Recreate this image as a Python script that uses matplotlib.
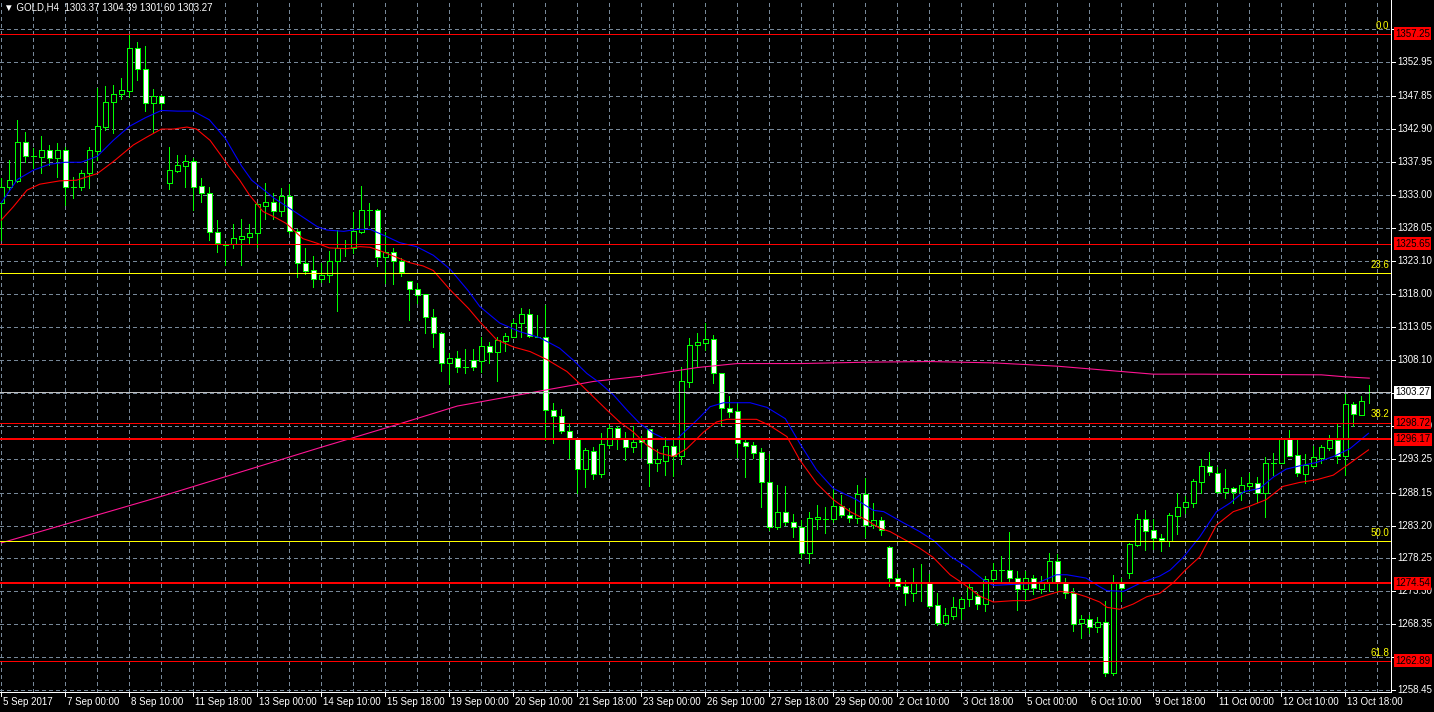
import matplotlib
matplotlib.use('Agg')
import matplotlib.pyplot as plt
from matplotlib.patches import Rectangle

# ---------------- data ----------------
opens = [1331.71, 1334.12, 1335.13, 1340.90, 1338.89, 1338.74, 1339.74, 1338.49, 1339.74, 1334.12,
         1334.12, 1336.23, 1339.64, 1343.26, 1346.92, 1348.12, 1348.68, 1355.05, 1351.89, 1346.77,
         1347.87, 1334.72, 1336.63, 1337.39, 1338.09, 1334.32, 1333.22, 1327.40, 1325.60, 1325.59,
         1326.40, 1326.70, 1327.20, 1331.37, 1331.97, 1330.61, 1332.82, 1327.60, 1322.68, 1321.68,
         1320.27, 1320.88, 1323.09, 1325.04, 1325.04, 1327.45, 1330.71, 1330.71, 1323.69, 1324.34,
         1323.09, 1320.02, 1318.77, 1318.07, 1314.55, 1312.25, 1307.73, 1308.38, 1307.13, 1308.13,
         1308.03, 1310.24, 1309.39, 1311.04, 1311.64, 1313.75, 1315.06, 1311.64, 1311.54, 1300.60,
         1299.75, 1297.49, 1296.19, 1291.67, 1294.48, 1290.92, 1295.33, 1297.84, 1296.44, 1295.08,
         1296.09, 1297.69, 1292.58, 1292.98, 1295.18, 1293.73, 1304.87, 1310.39, 1310.74, 1311.24,
         1306.12, 1300.85, 1300.45, 1295.73, 1295.33, 1294.23, 1289.81, 1282.94, 1285.30, 1283.79,
         1283.04, 1279.02, 1284.14, 1284.14, 1284.14, 1286.15, 1284.79, 1284.29, 1287.95, 1283.29,
         1284.04, 1279.93, 1275.26, 1274.10, 1273.00, 1274.76, 1274.76, 1271.25, 1268.59, 1269.64,
         1270.84, 1272.10, 1272.65, 1271.35, 1275.11, 1276.51, 1276.51, 1275.26, 1273.60, 1275.26,
         1273.60, 1274.76, 1277.87, 1274.76, 1273.00, 1268.48, 1269.09, 1267.98, 1268.74, 1260.96,
         1274.51, 1276.01, 1280.28, 1284.14, 1282.54, 1281.29, 1280.94, 1284.65, 1285.96, 1286.66,
         1289.82, 1292.18, 1291.17, 1288.31, 1288.82, 1288.31, 1289.22, 1289.57, 1288.16, 1292.68,
         1292.68, 1296.19, 1293.78, 1290.97, 1292.18, 1293.33, 1294.84, 1296.09, 1293.68, 1301.51,
         1299.86, 1303.37]
highs = [1335.48, 1338.24, 1344.26, 1342.50, 1339.99, 1341.85, 1340.50, 1340.85, 1340.25, 1335.73,
         1336.73, 1340.15, 1349.03, 1349.38, 1349.53, 1350.53, 1357.25, 1355.95, 1355.45, 1348.88,
         1348.02, 1340.15, 1338.99, 1338.99, 1338.49, 1335.48, 1334.22, 1329.21, 1325.80, 1328.61,
         1329.31, 1328.61, 1331.72, 1334.73, 1333.22, 1333.98, 1334.63, 1327.80, 1324.94, 1323.79,
         1322.78, 1324.54, 1327.70, 1326.20, 1330.46, 1334.33, 1331.82, 1330.81, 1327.45, 1324.94,
         1323.44, 1320.02, 1319.67, 1318.07, 1315.76, 1312.40, 1309.23, 1309.49, 1309.74, 1309.74,
         1311.64, 1310.89, 1311.64, 1312.25, 1314.25, 1315.91, 1315.81, 1314.91, 1316.41, 1301.71,
         1300.70, 1298.50, 1296.24, 1294.83, 1295.08, 1297.09, 1298.35, 1298.20, 1297.34, 1298.20,
         1296.69, 1297.69, 1294.68, 1296.59, 1296.34, 1307.03, 1311.39, 1312.15, 1313.75, 1311.89,
         1306.12, 1302.71, 1301.70, 1296.33, 1295.83, 1294.83, 1293.98, 1289.31, 1289.16, 1284.94,
         1284.04, 1285.30, 1286.30, 1285.95, 1288.81, 1287.80, 1285.80, 1289.31, 1290.31, 1286.65,
         1284.54, 1280.13, 1275.91, 1275.01, 1276.76, 1277.42, 1275.91, 1273.00, 1270.74, 1272.50,
         1272.50, 1274.61, 1273.25, 1275.61, 1277.52, 1278.62, 1282.29, 1276.41, 1276.41, 1275.76,
         1275.61, 1279.12, 1278.92, 1275.26, 1273.75, 1269.74, 1269.74, 1269.49, 1271.90, 1275.76,
         1275.26, 1280.53, 1284.94, 1285.55, 1284.14, 1281.94, 1285.15, 1288.16, 1287.66, 1290.17,
         1293.18, 1294.34, 1292.08, 1291.68, 1289.07, 1290.47, 1291.17, 1290.47, 1293.48, 1294.08,
         1296.34, 1297.60, 1296.19, 1293.98, 1295.19, 1295.34, 1296.84, 1298.50, 1303.02, 1301.86,
         1302.72, 1304.39]
lows = [1326.20, 1333.72, 1334.98, 1337.99, 1336.98, 1336.23, 1337.49, 1335.73, 1331.46, 1332.47,
        1333.72, 1333.97, 1338.24, 1342.76, 1342.25, 1347.37, 1347.77, 1350.28, 1345.67, 1342.50,
        1345.77, 1333.82, 1336.48, 1334.22, 1330.71, 1331.97, 1326.20, 1324.44, 1322.50, 1324.94,
        1322.43, 1325.80, 1325.19, 1329.31, 1329.31, 1329.81, 1327.20, 1320.68, 1321.08, 1319.07,
        1319.92, 1319.92, 1315.56, 1323.79, 1324.29, 1327.30, 1328.46, 1322.28, 1319.67, 1319.57,
        1320.78, 1314.15, 1316.76, 1312.25, 1310.14, 1306.53, 1304.50, 1306.38, 1306.12, 1306.63,
        1306.38, 1307.63, 1305.02, 1309.54, 1311.64, 1311.64, 1311.64, 1311.54, 1296.09, 1295.69,
        1297.19, 1293.33, 1288.06, 1288.96, 1290.17, 1290.57, 1294.83, 1294.68, 1293.08, 1294.33,
        1293.58, 1289.16, 1291.47, 1290.82, 1290.67, 1292.48, 1304.12, 1307.23, 1309.63, 1304.72,
        1298.34, 1299.50, 1293.57, 1290.46, 1293.32, 1286.05, 1282.54, 1282.64, 1283.29, 1281.43,
        1278.27, 1277.62, 1282.64, 1282.04, 1283.79, 1284.54, 1283.79, 1283.64, 1281.53, 1282.79,
        1281.78, 1274.10, 1273.60, 1271.24, 1271.90, 1271.90, 1271.00, 1268.23, 1268.23, 1269.09,
        1269.09, 1271.09, 1270.59, 1270.39, 1274.61, 1274.76, 1274.61, 1270.49, 1272.00, 1272.90,
        1273.10, 1273.40, 1273.25, 1272.25, 1267.38, 1266.23, 1267.08, 1267.23, 1260.56, 1260.71,
        1271.90, 1275.26, 1280.13, 1279.53, 1279.62, 1279.43, 1280.13, 1281.94, 1285.15, 1286.06,
        1288.16, 1290.82, 1288.06, 1287.31, 1286.56, 1287.06, 1288.46, 1286.81, 1284.55, 1290.82,
        1292.68, 1293.68, 1290.67, 1289.57, 1292.00, 1292.68, 1294.59, 1292.68, 1290.82, 1298.20,
        1299.86, 1301.60]
closes = [1334.22, 1335.23, 1340.90, 1338.89, 1338.89, 1339.74, 1338.49, 1339.74, 1334.12, 1334.12,
          1336.23, 1339.74, 1343.36, 1347.02, 1348.12, 1348.78, 1355.05, 1351.89, 1346.77, 1347.87,
          1346.77, 1336.73, 1337.49, 1338.09, 1334.22, 1333.22, 1327.45, 1325.69, 1325.50, 1326.45,
          1326.80, 1327.20, 1331.62, 1331.97, 1330.61, 1332.82, 1327.60, 1322.68, 1321.58, 1320.27,
          1320.88, 1323.09, 1325.04, 1325.04, 1327.55, 1330.71, 1330.71, 1323.69, 1324.34, 1323.09,
          1321.43, 1318.77, 1317.92, 1314.55, 1312.25, 1307.73, 1308.38, 1307.03, 1307.13, 1307.13,
          1310.24, 1309.39, 1311.14, 1311.74, 1313.65, 1315.06, 1311.74, 1311.64, 1300.60, 1299.70,
          1297.49, 1296.24, 1291.67, 1294.58, 1290.97, 1295.43, 1297.84, 1296.44, 1295.08, 1295.73,
          1295.79, 1292.58, 1293.23, 1295.18, 1293.73, 1304.97, 1310.39, 1310.89, 1311.24, 1306.12,
          1300.85, 1300.25, 1295.68, 1295.23, 1294.18, 1289.81, 1282.94, 1285.30, 1283.79, 1282.94,
          1279.02, 1284.39, 1284.44, 1284.14, 1286.15, 1284.79, 1284.29, 1287.95, 1283.29, 1284.04,
          1282.54, 1275.26, 1274.10, 1273.00, 1274.76, 1274.76, 1271.14, 1268.59, 1269.74, 1270.89,
          1272.10, 1273.90, 1271.35, 1275.11, 1276.51, 1276.51, 1275.26, 1273.60, 1275.26, 1273.75,
          1274.76, 1277.87, 1274.76, 1273.00, 1268.38, 1269.09, 1267.98, 1268.74, 1260.96, 1274.51,
          1273.75, 1280.38, 1284.14, 1282.44, 1281.28, 1281.04, 1284.80, 1285.96, 1286.71, 1289.92,
          1292.18, 1291.33, 1288.31, 1288.82, 1288.31, 1289.32, 1289.57, 1288.16, 1292.58, 1292.68,
          1296.19, 1293.68, 1291.07, 1292.33, 1293.48, 1294.99, 1296.09, 1293.68, 1301.51, 1300.01,
          1301.96, 1303.27]

# moving averages (bar index, price)
ma_blue_bars = [0, 2, 4, 6, 8, 10, 12, 14, 16, 18, 20, 22, 24, 26, 28, 30, 31.3, 34.1, 37, 39.5,
                40.7, 42.8, 44.4, 46.1, 48.2, 49.8, 51.9, 54, 56.1, 58.4, 59.8, 62.3, 64.8, 67.3,
                69.8, 71.5, 73.2, 74.8, 76.5, 78.2, 79.8, 81.5, 83.2, 84.4, 86.1, 87.3, 88.6, 90.3,
                93.6, 95.7, 98, 99.8, 101.9, 104, 106.9, 109, 110.3, 112.8, 114.8, 116.5, 118.6,
                120.7, 122.8, 124, 127.3, 129.4, 131.9, 133.2, 135.6, 137.3, 138.2, 140.3, 142.3,
                144.8, 146.1, 147.8, 149.8, 151.9, 153.6, 155.3, 157.3, 159, 160.6, 162.3, 164.4,
                166.5, 168.6, 170.9]
ma_blue_vals = [1331.8, 1335.3, 1336.7, 1337.6, 1337.9, 1337.9, 1338.8, 1341.2, 1343.3, 1344.6,
                1345.7, 1345.6, 1345.6, 1344.3, 1341.5, 1337.4, 1335.2, 1332.5, 1330.2, 1328.2,
                1327.7, 1327.5, 1327.8, 1327.8, 1326.7, 1325.8, 1325.2, 1323.9, 1321.8, 1318.5,
                1316.2, 1313.7, 1312.4, 1311.5, 1309.9, 1308.1, 1306.1, 1304.7, 1302.9, 1300.6,
                1298.6, 1297.1, 1296.1, 1296.2, 1298.1, 1299.5, 1301.1, 1301.7, 1301.7, 1301.0,
                1299.3, 1295.6, 1291.6, 1288.8, 1287.1, 1285.5, 1285.3, 1283.6, 1282.3, 1281.0,
                1278.6, 1277.0, 1275.0, 1274.2, 1274.4, 1274.5, 1275.8, 1275.8, 1275.3, 1274.0,
                1273.4, 1273.3, 1274.5, 1275.6, 1276.5, 1278.5, 1281.5, 1285.3, 1286.6, 1288.3,
                1288.8, 1290.5, 1291.7, 1292.2, 1292.7, 1293.6, 1294.8, 1297.1]
ma_red_bars = [0, 1.5, 3.2, 4.8, 7.3, 9.4, 12, 14, 16.5, 18.2, 20, 21.5, 23.2, 24.4, 26.1, 28.2,
               29.8, 31, 32.7, 34.4, 35.6, 37.7, 39.5, 41, 43.2, 44.8, 46.1, 47.3, 49.4, 51, 52.7,
               54, 56.1, 58.4, 59.8, 61.9, 64, 66.1, 68.2, 70.7, 72.3, 74, 75.7, 77.3, 79, 80.7,
               82.3, 84, 85.7, 87.8, 89.4, 90.7, 94.4, 96, 98.2, 99.8, 101.9, 104, 106.1, 108.2,
               109.8, 111.1, 113.2, 114.8, 116.5, 118.6, 120.2, 122.3, 124, 126.5, 128.5, 130.6,
               132.3, 134, 135.6, 137.3, 138.2, 139.8, 141.5, 143.2, 144.8, 146.5, 148, 149.8,
               151.9, 154, 156, 158.1, 160.2, 162.3, 164.4, 166.5, 168.6, 170.9]
ma_red_vals = [1329.2, 1331.2, 1333.7, 1334.6, 1335.1, 1335.2, 1336.2, 1338.0, 1340.5, 1341.7,
               1342.9, 1342.9, 1343.2, 1342.9, 1341.2, 1337.7, 1335.2, 1333.0, 1330.5, 1329.5,
               1328.7, 1326.4, 1325.7, 1325.0, 1324.9, 1325.2, 1325.1, 1324.6, 1323.6, 1322.8,
               1322.3, 1321.6, 1318.7, 1315.9, 1313.9, 1311.2, 1310.1, 1309.4, 1308.2, 1306.4,
               1304.6, 1302.6, 1300.6, 1298.8, 1297.3, 1295.3, 1294.1, 1293.6, 1294.8, 1297.3,
               1298.8, 1299.2, 1299.2, 1298.3, 1296.6, 1293.1, 1289.6, 1287.1, 1285.3, 1284.0,
               1282.8, 1282.3, 1280.9, 1279.8, 1278.4, 1275.8, 1274.5, 1272.6, 1271.7, 1271.9,
               1271.9, 1272.7, 1273.3, 1273.1, 1272.5, 1271.7, 1270.9, 1270.6, 1271.4, 1272.5,
               1273.0, 1274.6, 1276.5, 1278.5, 1283.3, 1285.3, 1286.1, 1287.1, 1289.1, 1289.7,
               1290.1, 1290.8, 1292.6, 1294.6]
ma_pink_bars = [0, 10, 20, 30, 40, 50, 57, 68, 74, 80, 87, 92, 100, 108, 116, 124, 132, 140, 144,
                150, 165, 168, 171]
ma_pink_vals = [1280.6, 1284.1, 1287.6, 1291.3, 1295.0, 1298.6, 1301.2, 1303.6, 1304.9, 1305.7,
                1307.0, 1307.6, 1307.6, 1307.8, 1307.9, 1307.7, 1307.2, 1306.4, 1306.0, 1306.0,
                1305.9, 1305.6, 1305.4]

x_tick_labels = ['5 Sep 2017', '7 Sep 00:00', '8 Sep 10:00', '11 Sep 18:00', '13 Sep 00:00',
                 '14 Sep 10:00', '15 Sep 18:00', '19 Sep 00:00', '20 Sep 10:00', '21 Sep 18:00',
                 '23 Sep 00:00', '26 Sep 10:00', '27 Sep 18:00', '29 Sep 00:00', '2 Oct 10:00',
                 '3 Oct 18:00', '5 Oct 00:00', '6 Oct 10:00', '9 Oct 18:00', '11 Oct 00:00',
                 '12 Oct 10:00', '13 Oct 18:00']
x_tick_bars = list(range(0, 169, 8))
y_grid_values = [1357.90, 1352.95, 1347.85, 1342.90, 1337.95, 1333.00, 1328.05, 1323.10, 1318.00,
                 1313.05, 1308.10, 1303.15, 1298.20, 1293.25, 1288.15, 1283.20, 1278.25, 1273.30,
                 1268.35, 1263.40, 1258.45]
# labels that stay visible (the others are covered by the price boxes)
y_label_values = [1352.95, 1347.85, 1342.90, 1337.95, 1333.00, 1328.05, 1323.10, 1318.00,
                  1313.05, 1308.10, 1298.20, 1293.25, 1288.15, 1283.20, 1278.25, 1273.30,
                  1268.35, 1258.45]
red_levels = [1357.25, 1325.65, 1298.72, 1296.17, 1274.54, 1262.89]
fib_start, fib_end = 1357.25, 1204.56
fib_ratios = [0.0, 23.6, 38.2, 50.0, 61.8]
bid_price = 1303.27
title = '\u25BC GOLD,H4  1303.37 1304.39 1301.60 1303.27'

# ---------------- layout ----------------
W, H = 1434, 712
AXW, AXH = 1391, 692
PX = 0.72  # one pixel in points at dpi 100
Y_TOP, Y_BOT = 1362.33, 1362.33 - 0.15055 * AXH
X_LEFT = -1.3 / 8
X_RIGHT = (AXW - 1.3) / 8

fig = plt.figure(figsize=(W / 100, H / 100), dpi=100, facecolor='black')
ax = fig.add_axes([0, (H - AXH) / H, AXW / W, AXH / H], facecolor='black')
ax.set_xlim(X_LEFT, X_RIGHT)
ax.set_ylim(Y_BOT, Y_TOP)

FONT = ['Liberation Sans', 'DejaVu Sans']
GRID = '#778899'
AA = False

# grid
for v in y_grid_values:
    ax.axhline(v, color=GRID, lw=PX, dashes=(3, 3), zorder=0, antialiased=AA)
for b in range(0, 176, 4):
    ax.axvline(b, color=GRID, lw=PX, dashes=(3, 3), zorder=0, antialiased=AA)

# candles
for k, (o, h, l, c) in enumerate(zip(opens, highs, lows, closes)):
    ax.vlines(k, l, h, color='#00ff00', lw=PX, zorder=2, antialiased=AA)
    bottom = min(o, c)
    height = abs(c - o)
    face = 'white' if c < o else 'black'
    ax.add_patch(Rectangle((k - 0.29, bottom), 0.58, height, facecolor=face,
                           edgecolor='#00ff00', lw=PX, zorder=3, antialiased=AA))

# moving averages
ax.plot(ma_pink_bars, ma_pink_vals, color='#ff1493', lw=0.8, zorder=4)
ax.plot(ma_red_bars, ma_red_vals, color='#ff0000', lw=0.8, zorder=4)
ax.plot(ma_blue_bars, ma_blue_vals, color='#0000ff', lw=0.8, zorder=4)

# fibonacci levels (a level that falls on a red price line is hidden by it)
ytr = ax.get_yaxis_transform()
for r in fib_ratios:
    p = fib_start - (fib_start - fib_end) * r / 100
    covered = any(abs(p - q) < 0.5 for q in red_levels[1:])
    if not covered:
        ax.axhline(p, color='#ffff00', lw=PX, zorder=5, antialiased=AA)
    ax.text(1389 / AXW, p + 0.4, f'{r:.1f}', transform=ytr, ha='right', va='bottom',
            color='#ffff00', fontsize=7, family=FONT, zorder=8)

# horizontal price lines
red_lw = [1, 1, 1, 2, 2, 1]
for p, w in zip(red_levels, red_lw):
    ax.axhline(p, color='#ff0000', lw=w * PX, zorder=6, antialiased=AA)
ax.axhline(bid_price, color='#c0c0c0', lw=PX, zorder=5, antialiased=AA)

# spines
for s in ['top', 'left']:
    ax.spines[s].set_visible(False)
ax.spines['right'].set_color('white')
ax.spines['bottom'].set_color('white')
ax.spines['right'].set_linewidth(PX)
ax.spines['bottom'].set_linewidth(PX)
ax.set_xticks([])
ax.set_yticks([])

# right price scale
for v in y_grid_values:
    ax.plot([1.0, 1.0 + 4 / AXW], [v, v], transform=ytr, color='white', lw=PX,
            clip_on=False, zorder=9, antialiased=AA)
for v in y_label_values:
    ax.text(1.0 + 6 / AXW, v, f'{v:.2f}', transform=ytr, ha='left', va='center',
            color='white', fontsize=7, family=FONT, clip_on=False)
for p in red_levels:
    ax.text(1.0 + 4 / AXW, p, f'{p:.2f}', transform=ytr, ha='left', va='center',
            color='black', fontsize=7, family=FONT, clip_on=False, zorder=10,
            bbox=dict(boxstyle='square,pad=0.15', facecolor='#ff0000', edgecolor='none'))
ax.text(1.0 + 4 / AXW, bid_price, f'{bid_price:.2f}', transform=ytr, ha='left', va='center',
        color='black', fontsize=7, family=FONT, clip_on=False, zorder=10,
        bbox=dict(boxstyle='square,pad=0.15', facecolor='white', edgecolor='none'))

# bottom time scale
xtr = ax.get_xaxis_transform()
for b, lab in zip(x_tick_bars, x_tick_labels):
    ax.plot([b, b], [0, -4 / AXH], transform=xtr, color='white', lw=PX, clip_on=False,
            antialiased=AA)
    ax.text(b + 0.2, -10 / AXH, lab, transform=xtr, ha='left', va='center',
            color='white', fontsize=7, family=FONT, clip_on=False)

# title
ax.text(4 / AXW, 1 - 7 / AXH, title, transform=ax.transAxes, ha='left', va='center',
        color='white', fontsize=7, family=FONT, zorder=10)

fig.savefig('out.png', dpi=100, facecolor='black')
